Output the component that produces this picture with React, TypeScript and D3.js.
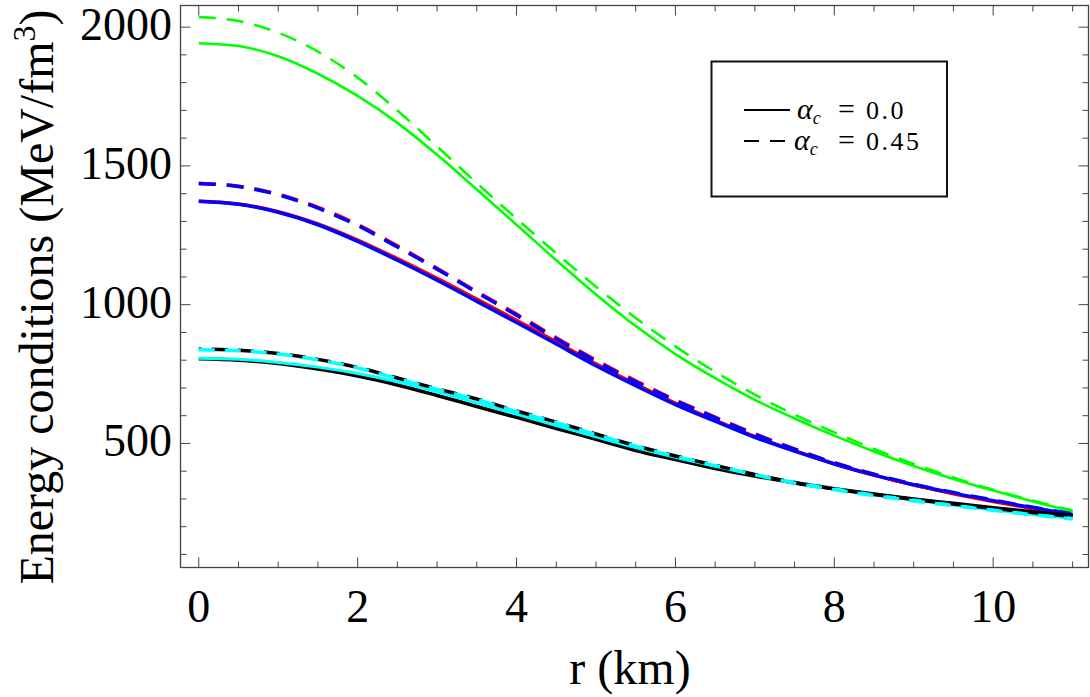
import React, { useEffect, useRef } from "react";
import * as d3 from "d3";

// radius samples (km)
const rValues = [0, 0.5, 1, 1.5, 2, 2.5, 3, 3.5, 4, 4.5, 5, 5.5, 6, 6.5, 7, 7.5, 8, 8.5, 9, 9.5, 10, 10.5, 11];

// energy conditions (MeV/fm^3)
const greenSolid = [1942, 1932, 1895, 1832, 1752, 1655, 1540, 1415, 1288, 1160, 1037, 923, 822, 735, 657, 590, 528, 471, 419, 372, 330, 291, 255];
const greenDashed = [2036, 2022, 1980, 1912, 1818, 1700, 1570, 1438, 1310, 1185, 1065, 952, 850, 758, 676, 604, 540, 480, 426, 377, 333, 294, 258];
const redSolid = [1373, 1363, 1335, 1291, 1233, 1166, 1095, 1020, 944, 866, 787, 714, 645, 584, 525, 474, 427, 386, 350, 319, 291, 265, 240];
const blueSolid = [1373, 1362, 1333, 1288, 1228, 1160, 1088, 1012, 936, 858, 780, 708, 640, 580, 522, 472, 426, 386, 351, 321, 294, 268, 244];
const redDashed = [1437, 1427, 1398, 1351, 1289, 1212, 1131, 1047, 966, 881, 800, 726, 657, 595, 535, 480, 430, 388, 351, 321, 294, 267, 242];
const blueDashed = [1437, 1426, 1396, 1348, 1285, 1208, 1128, 1044, 962, 877, 796, 722, 654, 592, 533, 479, 430, 389, 353, 323, 296, 270, 246];
const blackSolid = [805, 800, 788, 768, 743, 711, 673, 633, 594, 554, 515, 475, 442, 410, 383, 358, 337, 318, 300, 284, 268, 254, 240];
const cyanSolid = [807, 803, 792, 775, 752, 722, 686, 646, 606, 564, 524, 485, 450, 418, 388, 360, 337, 315, 296, 278, 260, 244, 230];
const blackDashed = [840, 836, 824, 803, 774, 736, 697, 660, 617, 577, 534, 492, 455, 421, 388, 359, 336, 316, 298, 282, 266, 251, 237];
const cyanDashed = [838, 834, 822, 801, 772, 734, 695, 658, 615, 575, 532, 490, 453, 420, 387, 357, 333, 312, 293, 276, 259, 243, 228];

const xMajorTicks = [0, 2, 4, 6, 8, 10];
const yMajorTicks = [500, 1000, 1500, 2000];
const legendLabels = ["0.0", "0.45"];

const W = 1090;
const H = 697;
const FONT = "'Liberation Serif', 'Times New Roman', serif";

const App = () => {
    const svgRef = useRef(null);

    useEffect(() => {
        const svg = d3.select(svgRef.current);
        svg.selectAll("*").remove();

        const left = 180.5, right = 1088.5, top = 5.5, bottom = 567.5;
        const x = d3.scaleLinear().domain([-0.23, 11.2]).range([left, right]);
        const y = d3.scaleLinear().domain([53, 2078]).range([bottom, top]);

        // 曲线
        const series = [
            { v: greenDashed, color: "#00ff00", w: 2.6, dash: "17,11", off: 0 },
            { v: greenSolid, color: "#00ff00", w: 2.6, dash: null, off: 0 },
            { v: redSolid, color: "#ff0000", w: 3.5, dash: null, off: 0 },
            { v: blueSolid, color: "#0000ff", w: 3.5, dash: null, off: 0 },
            { v: redDashed, color: "#ff0000", w: 3.5, dash: "17,11", off: 0 },
            { v: blueDashed, color: "#0000ff", w: 3.5, dash: "17,11", off: 0 },
            { v: blackSolid, color: "#000000", w: 3.6, dash: null, off: 0 },
            { v: cyanSolid, color: "#00ffff", w: 3, dash: null, off: 0 },
            { v: blackDashed, color: "#000000", w: 3.5, dash: "16,10", off: 13 },
            { v: cyanDashed, color: "#00ffff", w: 3.5, dash: "16,10", off: 0 },
        ];
        const line = d3
            .line()
            .x((d) => x(d[0]))
            .y((d) => y(d[1]))
            .curve(d3.curveMonotoneX);

        const plot = svg.append("g");
        series.forEach((s) => {
            const pts = rValues.map((r, i) => [r, s.v[i]]);
            const p = plot.append("path")
                .datum(pts)
                .attr("fill", "none")
                .attr("stroke", s.color)
                .attr("stroke-width", s.w)
                .attr("d", line);
            if (s.dash) p.attr("stroke-dasharray", s.dash).attr("stroke-dashoffset", s.off);
        });

        // 边框
        const axisColor = "#444";
        svg.append("rect")
            .attr("x", left).attr("y", top)
            .attr("width", right - left).attr("height", bottom - top)
            .attr("fill", "none").attr("stroke", axisColor).attr("stroke-width", 1.3);

        // 刻度 (x: every 0.5, y: every 100)
        const xt = d3.range(0, 11.01, 0.5);
        const yt = d3.range(100, 2001, 100);
        const ticks = svg.append("g").attr("stroke", axisColor).attr("stroke-width", 1);
        xt.forEach((t) => {
            const major = Math.abs(t % 2) < 1e-6;
            const len = major ? 10 : 6;
            ticks.append("line").attr("x1", x(t)).attr("x2", x(t)).attr("y1", bottom).attr("y2", bottom - len);
            ticks.append("line").attr("x1", x(t)).attr("x2", x(t)).attr("y1", top).attr("y2", top + len);
        });
        yt.forEach((t) => {
            const major = t % 500 === 0;
            const len = major ? 10 : 6;
            ticks.append("line").attr("x1", left).attr("x2", left + len).attr("y1", y(t)).attr("y2", y(t));
            ticks.append("line").attr("x1", right).attr("x2", right - len).attr("y1", y(t)).attr("y2", y(t));
        });

        // 刻度标签
        svg.append("g")
            .selectAll("text")
            .data(xMajorTicks)
            .enter()
            .append("text")
            .attr("x", (d) => x(d))
            .attr("y", 622)
            .attr("text-anchor", "middle")
            .attr("font-family", FONT)
            .attr("font-size", 46)
            .text((d) => d);
        svg.append("g")
            .selectAll("text")
            .data(yMajorTicks)
            .enter()
            .append("text")
            .attr("x", 172)
            .attr("y", (d) => y(d) + 13)
            .attr("text-anchor", "end")
            .attr("font-family", FONT)
            .attr("font-size", 46)
            .text((d) => d);

        // 轴标题
        svg.append("text")
            .attr("x", 630)
            .attr("y", 684)
            .attr("text-anchor", "middle")
            .attr("font-family", FONT)
            .attr("font-size", 48)
            .text("r (km)");

        const yl = svg.append("text")
            .attr("transform", "translate(53,297) rotate(-90)")
            .attr("text-anchor", "middle")
            .attr("font-family", FONT)
            .attr("font-size", 48);
        yl.append("tspan").text("Energy conditions (MeV/fm");
        yl.append("tspan").attr("dy", -18).attr("font-size", 32).text("3");
        yl.append("tspan").attr("dy", 18).text(")");

        // 图例
        const lg = svg.append("g");
        lg.append("rect")
            .attr("x", 711.5).attr("y", 61.5)
            .attr("width", 235.5).attr("height", 135)
            .attr("fill", "white").attr("stroke", "#111").attr("stroke-width", 2);
        legendLabels.forEach((lab, i) => {
            const ly = 110 + i * 31;
            const seg = lg.append("line")
                .attr("x1", 744).attr("x2", 790)
                .attr("y1", ly).attr("y2", ly)
                .attr("stroke", "black").attr("stroke-width", 1.8);
            if (i === 1) seg.attr("stroke-dasharray", "15,11");
            const t = lg.append("text")
                .attr("font-family", FONT)
                .attr("font-size", 26)
                .attr("y", ly + 9);
            t.append("tspan").attr("x", i === 1 ? 794 : 797).attr("font-style", "italic").attr("font-size", 30).text("α");
            t.append("tspan").attr("dy", 5).attr("font-size", 18).attr("font-style", "italic").text("c");
            t.append("tspan").attr("x", 838).attr("dy", -5).attr("font-size", 30).text("=");
            t.append("tspan").attr("x", 866).attr("letter-spacing", 2.5).text(lab);
        });
    }, []);

    return (
        <svg
            ref={svgRef}
            width={W}
            height={H}
            style={{ position: "absolute", left: 0, top: 0, background: "white" }}
        ></svg>
    );
};

export default App;
